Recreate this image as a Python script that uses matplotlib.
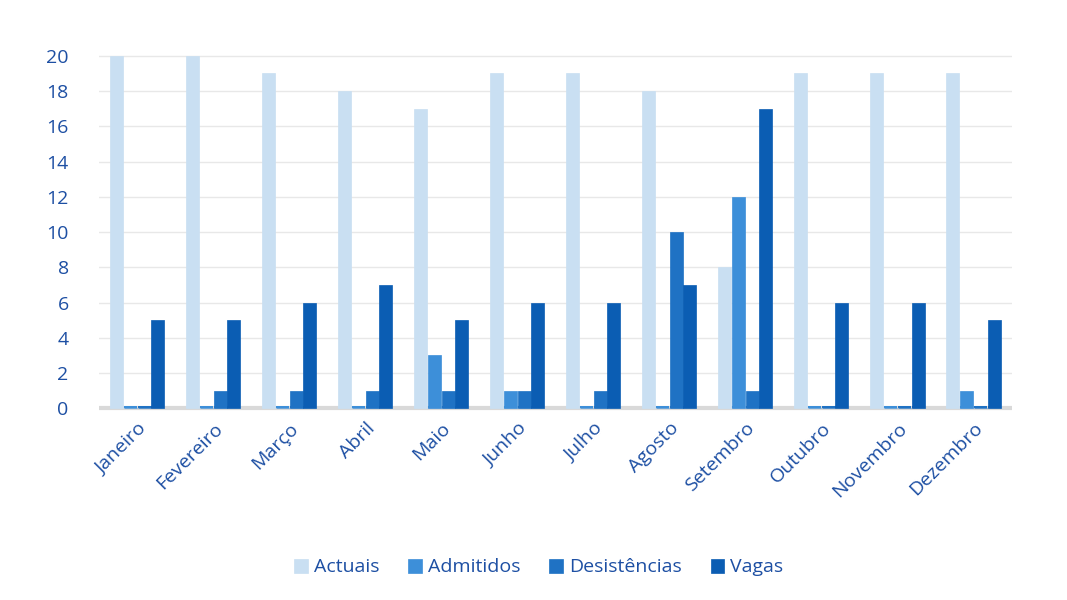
import matplotlib
matplotlib.use("Agg")
import matplotlib.pyplot as plt
import numpy as np

months = ["Janeiro", "Fevereiro", "Março", "Abril", "Maio", "Junho", "Julho",
          "Agosto", "Setembro", "Outubro", "Novembro", "Dezembro"]
actuais = [20, 20, 19, 18, 17, 19, 19, 18, 8, 19, 19, 19]
admitidos = [0, 0, 0, 0, 3, 1, 0, 0, 12, 0, 0, 1]
desistencias = [0, 1, 1, 1, 1, 1, 1, 10, 1, 0, 0, 0]
vagas = [5, 5, 6, 7, 5, 6, 6, 7, 17, 6, 6, 5]
series_names = ["Actuais", "Admitidos", "Desistências", "Vagas"]
colors = ["#c9dff2", "#3d8fd9", "#1f72c4", "#0b5db3"]
text_color = "#1d4fa3"

plt.rcParams['font.family'] = ['Open Sans', 'DejaVu Sans']
fig = plt.figure(figsize=(10.67, 6), dpi=100)
ax = fig.add_axes([0.093, 0.315, 0.855, 0.595])

x = np.arange(len(months))
w = 0.18
data = [actuais, admitidos, desistencias, vagas]
for i, (vals, c, name) in enumerate(zip(data, colors, series_names)):
    offs = (i - 1.5) * w
    ax.bar(x + offs, vals, width=w * 0.95, color=c, label=name, zorder=3,
           edgecolor=c, linewidth=0.5)
    # thin base for zero values
    ax.bar(x + offs, [0.12] * len(vals), width=w * 0.95, color=c, zorder=2)

ax.set_xlim(-0.5, len(months) - 0.5)
ax.set_ylim(-0.15, 20.1)
ax.set_yticks(range(0, 21, 2))
ax.yaxis.grid(True, color="#e8e8e8", linewidth=1, zorder=0)
ax.set_axisbelow(True)
for s in ax.spines.values():
    s.set_visible(False)
ax.axhline(0, color="#d9d9d9", linewidth=3, zorder=1)
ax.tick_params(axis="both", length=0, labelsize=14, colors=text_color)
ax.tick_params(axis="y", pad=22)
ax.set_xticks(x)
ax.set_xticklabels(months, rotation=45, ha="right", rotation_mode="anchor")
ax.tick_params(axis="x", pad=6)

leg = fig.legend(loc="lower center", bbox_to_anchor=(0.505, 0.01), ncol=4,
                 frameon=False, fontsize=14, handlelength=0.7, handleheight=0.7,
                 columnspacing=1.5, handletextpad=0.3)
for t in leg.get_texts():
    t.set_color(text_color)

fig.savefig("out.png", dpi=100, facecolor="white")
